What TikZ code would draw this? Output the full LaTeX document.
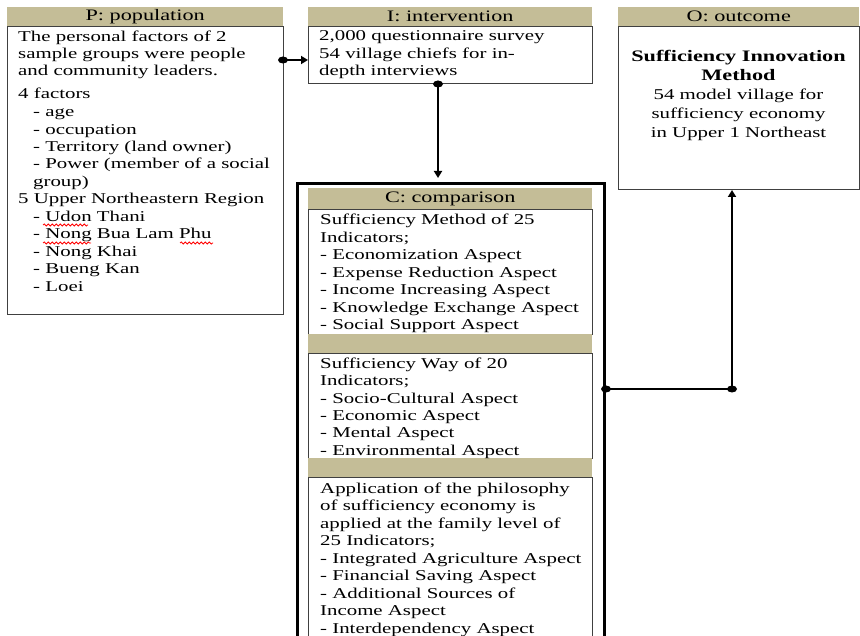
\documentclass[tikz,border=0pt]{standalone}
\usepackage{fontspec}
\setmainfont{Liberation Serif}[FakeStretch=1.39]
\usetikzlibrary{arrows.meta,decorations.pathmorphing,shapes.geometric}
\definecolor{tanhdr}{HTML}{C4BD97}
\definecolor{boxline}{HTML}{404040}
\tikzset{
  hdr/.style={fill=tanhdr, draw=none, anchor=north west, inner sep=0pt, minimum height=19pt, font=\fontsize{16}{18}\selectfont},
  band/.style={fill=tanhdr, draw=none, anchor=north west, inner sep=0pt, minimum width=284pt, minimum height=19pt},
  box/.style={draw=boxline, line width=1pt, anchor=north west, inner sep=0pt, fill=white},
  outerbox/.style={draw=black, line width=3pt, anchor=north west, inner sep=0pt},
  txt/.style={anchor=base west, align=left, inner sep=0pt, font=\fontsize{15}{17.5}\selectfont},
  ctxt/.style={anchor=base, align=center, inner sep=0pt, font=\fontsize{15}{19}\selectfont},
  conn/.style={draw=black, line width=2.5pt, -{Triangle[length=7pt,width=8pt]}},
  link/.style={draw=black, line width=2.5pt},
  dot/.style={fill=black, ellipse, inner sep=0pt, minimum width=10pt, minimum height=7pt},
  squig/.style={draw=red, line width=0.8pt, decorate, decoration={snake, amplitude=1pt, segment length=4pt}}
}
\begin{document}
\begin{tikzpicture}[x=1pt,y=-1pt]
\useasboundingbox (0,0) rectangle (860,636);
\clip (0,0) rectangle (860,636);
\fill[white] (0,0) rectangle (860,636);

% P: population  (anchor = baseline of last line)
\node[hdr, minimum width=276pt] (Phdr) at (7,7) {P: population};
\node[box, minimum width=276pt, minimum height=288pt] (Pbox) at (7,26) {};
\node[txt] (Ptxt) at (18,291.5) {The personal factors of 2\\
sample groups were people\\
and community leaders.\\[5.5pt]
4 factors\\
\hspace*{15pt}- age\\
\hspace*{15pt}- occupation\\
\hspace*{15pt}- Territory (land owner)\\
\hspace*{15pt}- Power (member of a social\\
\hspace*{15pt}group)\\
5 Upper Northeastern Region\\
\hspace*{15pt}- Udon Thani\\
\hspace*{15pt}- Nong Bua Lam Phu\\
\hspace*{15pt}- Nong Khai\\
\hspace*{15pt}- Bueng Kan\\
\hspace*{15pt}- Loei};
\draw[squig] (43,225) -- (88,225);
\draw[squig] (43,243) -- (91,243);
\draw[squig] (180,243) -- (213,243);

% I: intervention
\node[hdr, minimum width=284pt] (Ihdr) at (308,7) {I: intervention};
\node[box, minimum width=284pt, minimum height=57pt] (Ibox) at (308,26) {};
\node[txt] (Itxt) at (319,76) {2,000 questionnaire survey\\
54 village chiefs for in-\\
depth interviews};

% O: outcome
\node[hdr, minimum width=241pt] (Ohdr) at (618,7) {O: outcome};
\node[box, minimum width=241pt, minimum height=163pt] (Obox) at (618,26) {};
\node[ctxt] (Otxt) at (738.5,138) {{\fontsize{16}{18}\selectfont\bfseries Sufficiency Innovation}\\
{\fontsize{16}{18}\selectfont\bfseries Method}\\
54 model village for\\
sufficiency economy\\
in Upper 1 Northeast};

% C: comparison
\node[outerbox, minimum width=307pt, minimum height=520pt] (Couter) at (296,182) {};
\node[hdr, minimum width=284pt, minimum height=21pt] (Chdr) at (308,188) {C: comparison};
\node[box, minimum width=284pt, minimum height=125pt] (C1) at (308,209) {};
\node[band] (band1) at (308,334) {};
\node[box, minimum width=284pt, minimum height=105pt] (C2) at (308,353) {};
\node[band] (band2) at (308,458) {};
\node[box, minimum width=284pt, minimum height=200pt] (C3) at (308,477) {};
\node[txt] (C1txt) at (320,330) {Sufficiency Method of 25\\
Indicators;\\
- Economization Aspect\\
- Expense Reduction Aspect\\
- Income Increasing Aspect\\
- Knowledge Exchange Aspect\\
- Social Support Aspect};
\node[txt] (C2txt) at (320,455.5) {Sufficiency Way of 20\\
Indicators;\\
- Socio-Cultural Aspect\\
- Economic Aspect\\
- Mental Aspect\\
- Environmental Aspect};
\node[txt] (C3txt) at (320,633) {Application of the philosophy\\
of sufficiency economy is\\
applied at the family level of\\
25 Indicators;\\
- Integrated Agriculture Aspect\\
- Financial Saving Aspect\\
- Additional Sources of\\
Income Aspect\\
- Interdependency Aspect};

% connectors
\coordinate (pI) at (283,60);
\draw[conn] (pI) -- (pI -| Ibox.west);
\node[dot] (pIdot) at (pI) {};

\coordinate (iC) at ([xshift=130pt]Ibox.south west);
\draw[conn] (iC) -- ([yshift=4pt]iC |- Couter.north);
\node[dot] (iCdot) at (iC) {};

\coordinate (cO) at ([yshift=-207pt]Couter.north east);
\coordinate (bend) at ([xshift=126pt]cO);
\draw[link] (cO) -- (bend);
\draw[conn] (bend) -- (bend |- Obox.south);
\node[dot] (cOdot) at (cO) {};
\node[dot] (benddot) at (bend) {};
\end{tikzpicture}
\end{document}
